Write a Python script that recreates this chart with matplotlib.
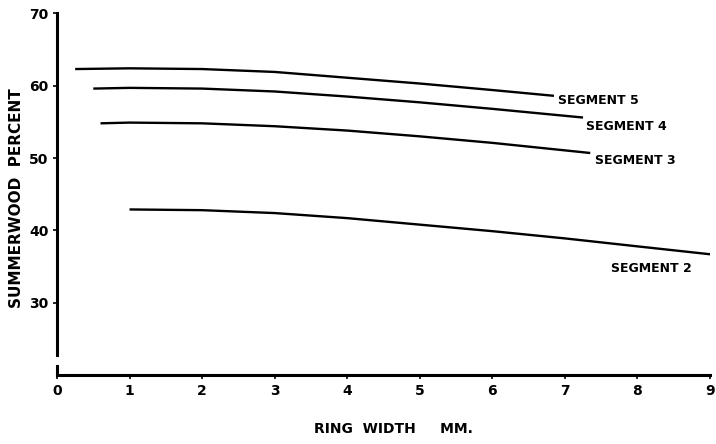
import matplotlib.pyplot as plt

# ring width (mm) vs summerwood percent
seg5_x = [0.25, 1.0, 2.0, 3.0, 4.0, 5.0, 6.0, 6.85]
seg5_y = [62.3, 62.4, 62.3, 61.9, 61.1, 60.3, 59.4, 58.6]
seg4_x = [0.5, 1.0, 2.0, 3.0, 4.0, 5.0, 6.0, 7.25]
seg4_y = [59.6, 59.7, 59.6, 59.2, 58.5, 57.7, 56.8, 55.6]
seg3_x = [0.6, 1.0, 2.0, 3.0, 4.0, 5.0, 6.0, 7.35]
seg3_y = [54.8, 54.9, 54.8, 54.4, 53.8, 53.0, 52.1, 50.7]
seg2_x = [1.0, 2.0, 3.0, 4.0, 5.0, 6.0, 7.0, 8.0, 9.1]
seg2_y = [42.9, 42.8, 42.4, 41.7, 40.8, 39.9, 38.9, 37.8, 36.6]

labels = ['SEGMENT 5', 'SEGMENT 4', 'SEGMENT 3', 'SEGMENT 2']
label_pos = [(6.9, 57.9), (7.29, 54.4), (7.41, 49.6), (7.64, 34.7)]

xticks = [0, 1, 2, 3, 4, 5, 6, 7, 8, 9]
yticks = [30, 40, 50, 60, 70]

fig = plt.figure(figsize=(7.16, 4.44), dpi=100)
ax = fig.add_axes([0.0796, 0.155, 0.912, 0.815])

for xs, ys in [(seg5_x, seg5_y), (seg4_x, seg4_y), (seg3_x, seg3_y), (seg2_x, seg2_y)]:
    ax.plot(xs, ys, color='black', lw=1.7, solid_capstyle='butt')

for txt, (tx, ty) in zip(labels, label_pos):
    ax.text(tx, ty, txt, fontsize=9, fontweight='bold', ha='left', va='center')

ax.set_xlim(0, 9)
ax.set_ylim(20, 70)
ax.set_xticks(xticks)
ax.set_yticks(yticks)
ax.tick_params(axis='both', labelsize=10, width=1.2, length=3, pad=3)
for lab in ax.get_xticklabels() + ax.get_yticklabels():
    lab.set_fontweight('bold')

for s in ['top', 'right']:
    ax.spines[s].set_visible(False)
ax.spines['left'].set_linewidth(2.2)
ax.spines['bottom'].set_linewidth(2.2)
ax.spines['left'].set_bounds(22.8, 70)
# broken axis stub at the corner
ax.plot([0, 0], [20, 21.3], color='black', lw=2.2, clip_on=False)

ax.set_ylabel('SUMMERWOOD  PERCENT', fontsize=11, fontweight='bold')
ax.yaxis.set_label_coords(-0.05, 0.49)
ax.set_xlabel('RING  WIDTH     MM.', fontsize=10, fontweight='bold')
ax.xaxis.set_label_coords(0.515, -0.13)

fig.savefig('out.png', dpi=100)
